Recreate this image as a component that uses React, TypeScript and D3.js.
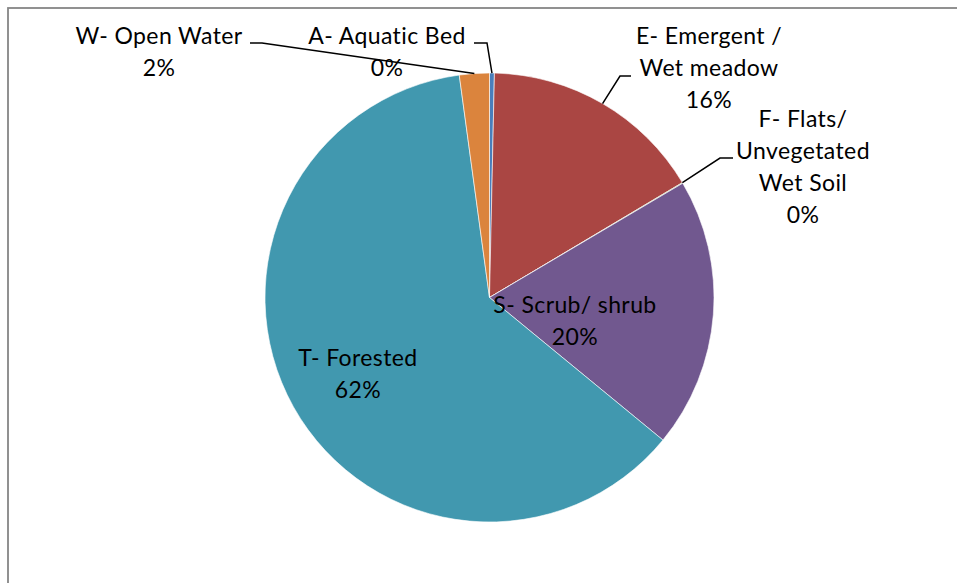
import React from "react";
import * as d3 from "d3";

const categories = [
  "A- Aquatic Bed",
  "E- Emergent / Wet meadow",
  "F- Flats/ Unvegetated Wet Soil",
  "S- Scrub/ shrub",
  "T- Forested",
  "W- Open Water",
];
const values = [0.35, 16.1, 0.05, 19.45, 61.9, 2.15];
const percentLabels = ["0%", "16%", "0%", "20%", "62%", "2%"];
const labelLines = [
  ["A- Aquatic Bed"],
  ["E- Emergent /", "Wet meadow"],
  ["F- Flats/", "Unvegetated", "Wet Soil"],
  ["S- Scrub/ shrub"],
  ["T- Forested"],
  ["W- Open Water"],
];
const sliceColors = ["#4A7EBB", "#AA4643", "#89A54E", "#71588F", "#4198AF", "#DB843D"];

// label layout (x center, first baseline), leader lines
const labelPos: [number, number][] = [
  [387, 44],
  [709, 44],
  [803, 127],
  [575, 313],
  [358, 366],
  [159, 44],
];
const leaderElbows: ([number, number][] | null)[] = [
  [[474, 43], [487, 43]],
  [[631, 76], [620, 76]],
  [[733, 158], [720, 158]],
  null,
  null,
  [[250, 43], [262, 43]],
];

const W = 957;
const H = 583;
const cx = 489.5;
const cy = 297.5;
const R = 224.5;
const lineH = 32;

export default function App() {
  const pie = d3.pie<number>().sort(null).value((d) => d);
  const arcs = pie(values);
  const arc = d3.arc<d3.PieArcDatum<number>>().innerRadius(0).outerRadius(R);
  const font = "Lato, 'Open Sans', sans-serif";

  return (
    <svg
      width={W}
      height={H}
      style={{ position: "absolute", left: 0, top: 0, background: "#fff" }}
    >
      <rect x={8} y={8} width={W + 20} height={H + 20} fill="#fff" stroke="#868686" strokeWidth={1.8} />
      <g transform={`translate(${cx},${cy})`}>
        {arcs.map((a, i) => (
          <path
            key={categories[i]}
            d={arc(a) || ""}
            fill={sliceColors[i]}
            stroke="#fff"
            strokeWidth={0.6}
          />
        ))}
      </g>
      {arcs.map((a, i) => {
        const el = leaderElbows[i];
        if (!el) return null;
        const mid = i === 2 ? a.startAngle : (a.startAngle + a.endAngle) / 2;
        const px = cx + R * Math.sin(mid);
        const py = cy - R * Math.cos(mid);
        const pts = [...el, [px, py]] as [number, number][];
        return (
          <path
            key={"l" + i}
            d={d3.line()(pts) || ""}
            fill="none"
            stroke="#000"
            strokeWidth={1.5}
          />
        );
      })}
      {labelLines.map((lines, i) => {
        const [x, y] = labelPos[i];
        const all = [...lines, percentLabels[i]];
        return (
          <text
            key={"t" + i}
            x={x}
            y={y}
            textAnchor="middle"
            fontFamily={font}
            fontSize={23}
            letterSpacing={0.4}
            fill="#000"
          >
            {all.map((s, j) => (
              <tspan key={j} x={x} y={y + j * lineH}>
                {s}
              </tspan>
            ))}
          </text>
        );
      })}
    </svg>
  );
}
